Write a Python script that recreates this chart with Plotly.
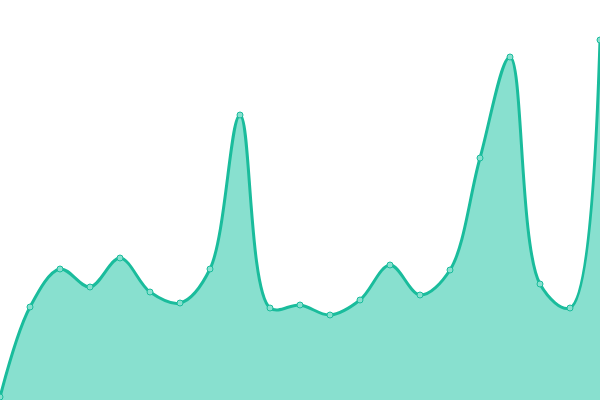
import plotly.graph_objects as go

# x positions (index) and values
x_idx = list(range(21))
values = [3, 93, 131, 113, 142, 108, 97, 131, 285, 92, 95, 85,
          100, 135, 105, 130, 242, 343, 116, 92, 360]

fig = go.Figure()
fig.add_trace(go.Scatter(
    x=x_idx,
    y=values,
    mode="lines+markers",
    line=dict(color="#1abc9c", width=3, shape="spline", smoothing=1),
    marker=dict(size=6, color="#88e0cf", line=dict(color="#1abc9c", width=1)),
    fill="tozeroy",
    fillcolor="#88e0cf",
))

fig.update_layout(
    width=600,
    height=400,
    margin=dict(l=0, r=0, t=0, b=0),
    paper_bgcolor="white",
    plot_bgcolor="white",
    showlegend=False,
    xaxis=dict(range=[0, 20], visible=False),
    yaxis=dict(range=[0, 400], visible=False),
)

# drop the page's default body margin so the chart fills the window
fig.write_html(
    "out.html",
    config={"displayModeBar": False},
    post_script="document.body.style.margin='0';",
)
